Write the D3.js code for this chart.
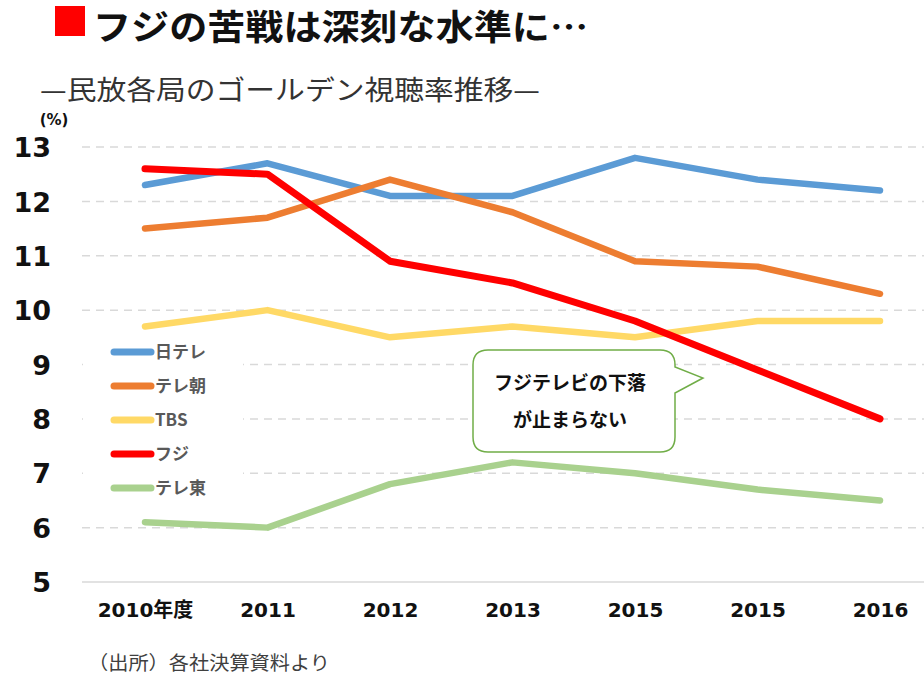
<!DOCTYPE html>
<html><head><meta charset="utf-8">
<script src="https://cdn.jsdelivr.net/npm/d3@7"></script>
<style>
html,body{margin:0;padding:0;background:#fff;}
svg{display:block;}
</style></head>
<body>
<svg id="chart" width="924" height="680"></svg>
<script>
const categories = ["2010年度","2011","2012","2013","2015","2015","2016"];
const seriesNames = ["日テレ","テレ朝","TBS","フジ","テレ東"];
const ntv   = [12.3,12.7,12.1,12.1,12.8,12.4,12.2];
const tvAsahi = [11.5,11.7,12.4,11.8,10.9,10.8,10.3];
const tbs   = [9.7,10.0,9.5,9.7,9.5,9.8,9.8];
const fuji  = [12.6,12.5,10.9,10.5,9.8,8.9,8.0];
const tvTokyo = [6.1,6.0,6.8,7.2,7.0,6.7,6.5];
const yTicks = [5,6,7,8,9,10,11,12,13];
const colors = ["#5B9BD5","#ED7D31","#FFD966","#FF0000","#A9D18E"];
const titleText = "フジの苦戦は深刻な水準に…";
const subtitleText = "—民放各局のゴールデン視聴率推移—";
const unitText = "(%)";
const sourceText = "（出所）各社決算資料より";
const calloutLines = ["フジテレビの下落","が止まらない"];

const series = [ntv,tvAsahi,tbs,fuji,tvTokyo].map((v,i)=>({name:seriesNames[i],values:v,color:colors[i]}));

const svg = d3.select("#chart");
const JP = "'Noto Sans CJK JP','Noto Sans',sans-serif";
const NUM = "'DejaVu Sans',sans-serif";

const x = d3.scalePoint().domain(d3.range(categories.length)).range([145,880]);
const y = d3.scaleLinear().domain([5,13]).range([582,147]);

// title
svg.append("rect").attr("x",55).attr("y",6).attr("width",30).attr("height",30).attr("fill","#FF0000");
svg.append("text").attr("x",93).attr("y",40).attr("font-family",JP).attr("font-weight",700)
  .attr("font-size",35).attr("fill","#111").attr("textLength",495).attr("lengthAdjust","spacingAndGlyphs").text(titleText);
svg.append("text").attr("x",40).attr("y",100).attr("font-family",JP).attr("font-weight",400)
  .attr("font-size",27).attr("fill","#333").attr("textLength",500).attr("lengthAdjust","spacingAndGlyphs").text(subtitleText);
svg.append("text").attr("x",54).attr("y",125).attr("text-anchor","middle").attr("font-family",NUM).attr("font-weight",700)
  .attr("font-size",15).attr("fill","#111").text(unitText);

// gridlines
const grid = svg.append("g");
grid.selectAll("line").data(yTicks.filter(d=>d>5)).join("line")
  .attr("x1",82).attr("x2",924).attr("y1",d=>y(d)).attr("y2",d=>y(d))
  .attr("stroke","#D9D9D9").attr("stroke-width",1.5).attr("stroke-dasharray","8,6");
svg.append("line").attr("x1",82).attr("x2",924).attr("y1",y(5)).attr("y2",y(5))
  .attr("stroke","#D9D9D9").attr("stroke-width",1.5);

// y axis
const yAxis = d3.axisLeft(y).tickValues(yTicks).tickSize(0).tickPadding(0).tickFormat(d3.format("d"));
const yg = svg.append("g").attr("transform","translate(51,0)").call(yAxis);
yg.select(".domain").remove();
yg.selectAll("text").attr("font-family",NUM).attr("font-weight",700).attr("font-size",27).attr("fill","#111").attr("dy","0.36em");

// x axis
const xAxis = d3.axisBottom(x).tickSize(0).tickPadding(0).tickFormat(i=>categories[i]);
const xg = svg.append("g").attr("transform","translate(0,598)").call(xAxis);
xg.select(".domain").remove();
xg.selectAll("text").attr("font-family",NUM).attr("font-weight",700).attr("font-size",20).attr("fill","#111").attr("dy","0.95em");
xg.selectAll("text").filter((d,i)=>i===0).attr("font-family","'DejaVu Sans','Noto Sans CJK JP',sans-serif");

// legend background (covers gridlines)
const legend = svg.append("g");
legend.append("rect").attr("x",83).attr("y",338).attr("width",160).attr("height",164).attr("fill","#fff");

// lines
const line = d3.line().x((d,i)=>x(i)).y(d=>y(d));
svg.append("g").selectAll("path").data(series).join("path")
  .attr("d",d=>line(d.values)).attr("fill","none").attr("stroke",d=>d.color)
  .attr("stroke-width",(d,i)=>i===3?7:6.5).attr("stroke-linecap","round").attr("stroke-linejoin","round");

// legend items
const li = legend.selectAll("g.item").data(series).join("g").attr("class","item")
  .attr("transform",(d,i)=>`translate(0,${352+i*34})`);
li.append("line").attr("x1",114).attr("x2",151).attr("y1",0).attr("y2",0)
  .attr("stroke",d=>d.color).attr("stroke-width",7).attr("stroke-linecap","round");
li.append("text").attr("x",155).attr("y",0).attr("dy","0.36em").attr("font-family",JP).attr("font-weight",700)
  .attr("font-size",17).attr("fill","#595959").text(d=>d.name);

// callout
const bx0=473,bx1=675,by0=350,by1=452,r=15;
const p = d3.path();
p.moveTo(bx0+r,by0);
p.lineTo(bx1-r,by0);
p.quadraticCurveTo(bx1,by0,bx1,by0+r);
p.lineTo(bx1,by0+17);
p.lineTo(703,378);
p.lineTo(bx1,by0+43);
p.lineTo(bx1,by1-r);
p.quadraticCurveTo(bx1,by1,bx1-r,by1);
p.lineTo(bx0+r,by1);
p.quadraticCurveTo(bx0,by1,bx0,by1-r);
p.lineTo(bx0,by0+r);
p.quadraticCurveTo(bx0,by0,bx0+r,by0);
p.closePath();
svg.append("path").attr("d",p.toString()).attr("fill","#fff").attr("stroke","#70AD47").attr("stroke-width",1.5);
svg.append("g").selectAll("text").data(calloutLines).join("text")
  .attr("x",570).attr("y",(d,i)=>383+i*37).attr("dy","0.36em").attr("text-anchor","middle")
  .attr("font-family",JP).attr("font-weight",700).attr("font-size",19).attr("fill","#111").text(d=>d);

// source
svg.append("text").attr("x",88).attr("y",670).attr("font-family",JP).attr("font-size",19)
  .attr("fill","#404040").attr("textLength",242).attr("lengthAdjust","spacingAndGlyphs").text(sourceText);
</script>
</body></html>
